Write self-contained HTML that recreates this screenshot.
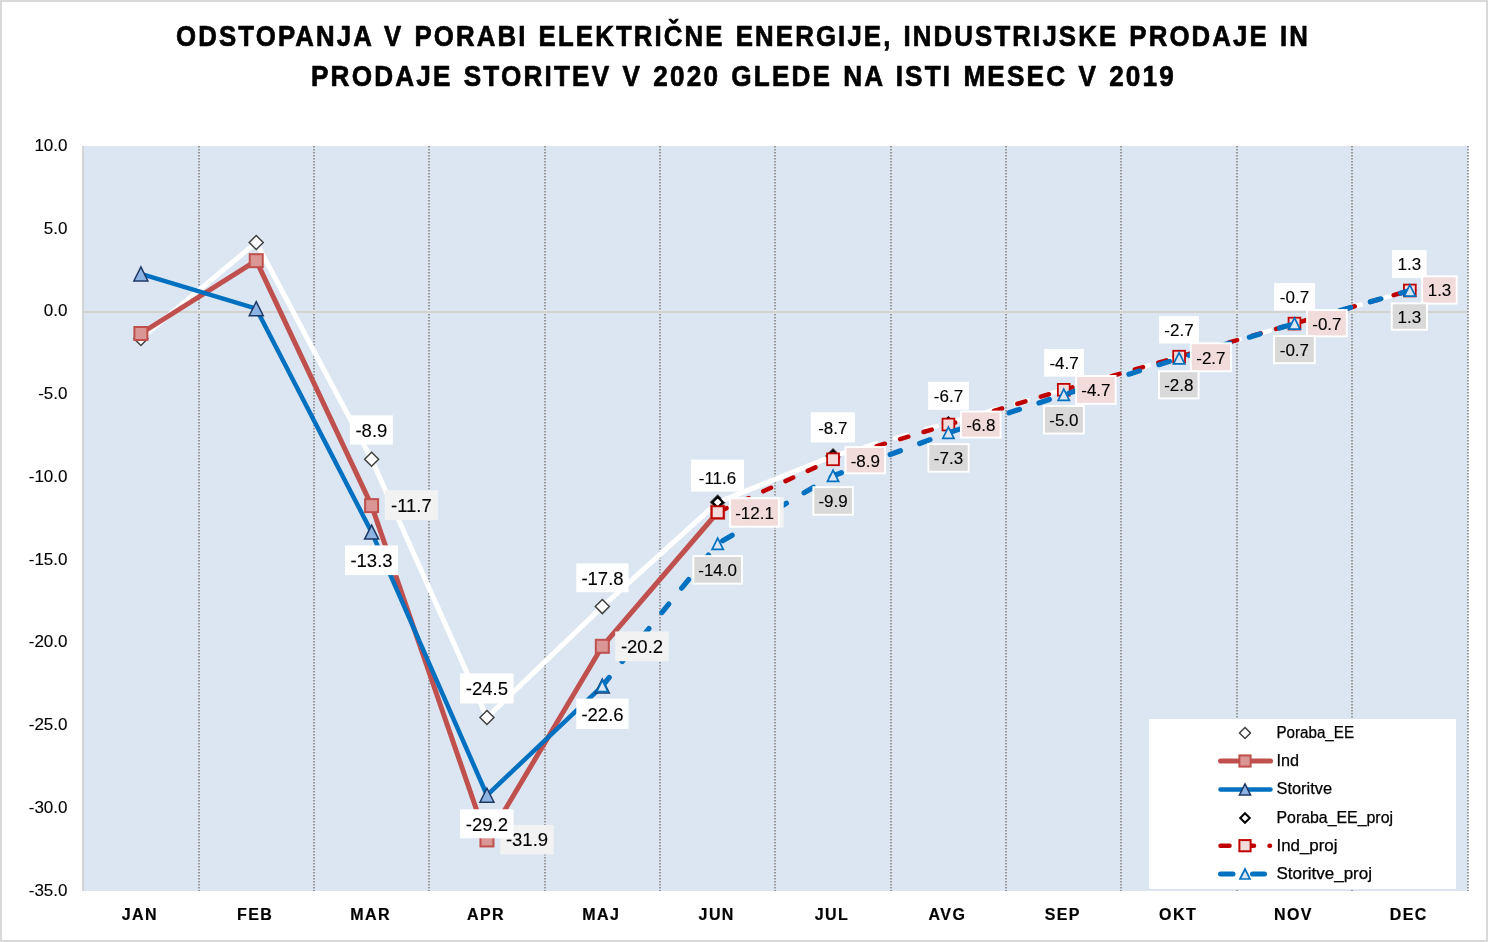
<!DOCTYPE html>
<html><head><meta charset="utf-8"><style>html,body{margin:0;padding:0;background:#fff;width:1488px;height:942px;overflow:hidden}</style></head><body>
<svg width="1488" height="942" viewBox="0 0 1488 942" style="display:block;will-change:transform">
<rect x="0" y="0" width="1488" height="942" fill="#d9d9d9"/>
<rect x="2" y="2" width="1484" height="938" fill="#ffffff"/>
<rect x="82" y="146" width="1386" height="745" fill="#dce6f2"/>
<line x1="199" y1="146" x2="199" y2="891" stroke="#999999" stroke-width="2" stroke-dasharray="1.6 1.4"/>
<line x1="314" y1="146" x2="314" y2="891" stroke="#999999" stroke-width="2" stroke-dasharray="1.6 1.4"/>
<line x1="429" y1="146" x2="429" y2="891" stroke="#999999" stroke-width="2" stroke-dasharray="1.6 1.4"/>
<line x1="545" y1="146" x2="545" y2="891" stroke="#999999" stroke-width="2" stroke-dasharray="1.6 1.4"/>
<line x1="660" y1="146" x2="660" y2="891" stroke="#999999" stroke-width="2" stroke-dasharray="1.6 1.4"/>
<line x1="775" y1="146" x2="775" y2="891" stroke="#999999" stroke-width="2" stroke-dasharray="1.6 1.4"/>
<line x1="891" y1="146" x2="891" y2="891" stroke="#999999" stroke-width="2" stroke-dasharray="1.6 1.4"/>
<line x1="1006" y1="146" x2="1006" y2="891" stroke="#999999" stroke-width="2" stroke-dasharray="1.6 1.4"/>
<line x1="1121" y1="146" x2="1121" y2="891" stroke="#999999" stroke-width="2" stroke-dasharray="1.6 1.4"/>
<line x1="1237" y1="146" x2="1237" y2="891" stroke="#999999" stroke-width="2" stroke-dasharray="1.6 1.4"/>
<line x1="1352" y1="146" x2="1352" y2="891" stroke="#999999" stroke-width="2" stroke-dasharray="1.6 1.4"/>
<line x1="1468" y1="146" x2="1468" y2="891" stroke="#999999" stroke-width="2" stroke-dasharray="1.6 1.4"/>
<rect x="82" y="146" width="2" height="745" fill="#d4d4d4"/>
<rect x="84" y="311" width="1383" height="2" fill="#d6d2cf"/>
<text x="67.5" y="150.8" text-anchor="end" font-family='"Liberation Sans", sans-serif' font-size="17" stroke="#000" stroke-width="0.12" fill="#000">10.0</text>
<text x="67.5" y="233.6" text-anchor="end" font-family='"Liberation Sans", sans-serif' font-size="17" stroke="#000" stroke-width="0.12" fill="#000">5.0</text>
<text x="67.5" y="316.3" text-anchor="end" font-family='"Liberation Sans", sans-serif' font-size="17" stroke="#000" stroke-width="0.12" fill="#000">0.0</text>
<text x="67.5" y="399.1" text-anchor="end" font-family='"Liberation Sans", sans-serif' font-size="17" stroke="#000" stroke-width="0.12" fill="#000">-5.0</text>
<text x="67.5" y="481.8" text-anchor="end" font-family='"Liberation Sans", sans-serif' font-size="17" stroke="#000" stroke-width="0.12" fill="#000">-10.0</text>
<text x="67.5" y="564.5" text-anchor="end" font-family='"Liberation Sans", sans-serif' font-size="17" stroke="#000" stroke-width="0.12" fill="#000">-15.0</text>
<text x="67.5" y="647.3" text-anchor="end" font-family='"Liberation Sans", sans-serif' font-size="17" stroke="#000" stroke-width="0.12" fill="#000">-20.0</text>
<text x="67.5" y="730.0" text-anchor="end" font-family='"Liberation Sans", sans-serif' font-size="17" stroke="#000" stroke-width="0.12" fill="#000">-25.0</text>
<text x="67.5" y="812.8" text-anchor="end" font-family='"Liberation Sans", sans-serif' font-size="17" stroke="#000" stroke-width="0.12" fill="#000">-30.0</text>
<text x="67.5" y="895.5" text-anchor="end" font-family='"Liberation Sans", sans-serif' font-size="17" stroke="#000" stroke-width="0.12" fill="#000">-35.0</text>
<text x="139.9" y="920" text-anchor="middle" font-family='"Liberation Sans", sans-serif' font-weight="bold" font-size="16" letter-spacing="1.4" stroke="#000" stroke-width="0.2" fill="#000">JAN</text>
<text x="255.2" y="920" text-anchor="middle" font-family='"Liberation Sans", sans-serif' font-weight="bold" font-size="16" letter-spacing="1.4" stroke="#000" stroke-width="0.2" fill="#000">FEB</text>
<text x="370.6" y="920" text-anchor="middle" font-family='"Liberation Sans", sans-serif' font-weight="bold" font-size="16" letter-spacing="1.4" stroke="#000" stroke-width="0.2" fill="#000">MAR</text>
<text x="486.0" y="920" text-anchor="middle" font-family='"Liberation Sans", sans-serif' font-weight="bold" font-size="16" letter-spacing="1.4" stroke="#000" stroke-width="0.2" fill="#000">APR</text>
<text x="601.3" y="920" text-anchor="middle" font-family='"Liberation Sans", sans-serif' font-weight="bold" font-size="16" letter-spacing="1.4" stroke="#000" stroke-width="0.2" fill="#000">MAJ</text>
<text x="716.7" y="920" text-anchor="middle" font-family='"Liberation Sans", sans-serif' font-weight="bold" font-size="16" letter-spacing="1.4" stroke="#000" stroke-width="0.2" fill="#000">JUN</text>
<text x="832.0" y="920" text-anchor="middle" font-family='"Liberation Sans", sans-serif' font-weight="bold" font-size="16" letter-spacing="1.4" stroke="#000" stroke-width="0.2" fill="#000">JUL</text>
<text x="947.4" y="920" text-anchor="middle" font-family='"Liberation Sans", sans-serif' font-weight="bold" font-size="16" letter-spacing="1.4" stroke="#000" stroke-width="0.2" fill="#000">AVG</text>
<text x="1062.8" y="920" text-anchor="middle" font-family='"Liberation Sans", sans-serif' font-weight="bold" font-size="16" letter-spacing="1.4" stroke="#000" stroke-width="0.2" fill="#000">SEP</text>
<text x="1178.1" y="920" text-anchor="middle" font-family='"Liberation Sans", sans-serif' font-weight="bold" font-size="16" letter-spacing="1.4" stroke="#000" stroke-width="0.2" fill="#000">OKT</text>
<text x="1293.5" y="920" text-anchor="middle" font-family='"Liberation Sans", sans-serif' font-weight="bold" font-size="16" letter-spacing="1.4" stroke="#000" stroke-width="0.2" fill="#000">NOV</text>
<text x="1408.8" y="920" text-anchor="middle" font-family='"Liberation Sans", sans-serif' font-weight="bold" font-size="16" letter-spacing="1.4" stroke="#000" stroke-width="0.2" fill="#000">DEC</text>
<text x="176" y="46" font-family='"Liberation Sans", sans-serif' font-weight="bold" font-size="30" letter-spacing="2.5" word-spacing="2" stroke="#000" stroke-width="0.7" textLength="1134" lengthAdjust="spacingAndGlyphs" fill="#000">ODSTOPANJA V PORABI ELEKTRIČNE ENERGIJE, INDUSTRIJSKE PRODAJE IN</text>
<text x="311" y="86" font-family='"Liberation Sans", sans-serif' font-weight="bold" font-size="30" letter-spacing="2.5" word-spacing="2" stroke="#000" stroke-width="0.7" textLength="865" lengthAdjust="spacingAndGlyphs" fill="#000">PRODAJE STORITEV V 2020 GLEDE NA ISTI MESEC V 2019</text>
<polyline points="140.88,338.48 256.24,242.49 371.60,459.30 486.96,717.48 602.32,606.59 717.68,502.33 833.04,455.99" fill="none" stroke="#ffffff" stroke-width="5" stroke-linejoin="round" stroke-linecap="round"/>
<path d="M140.88,331.48 L147.88,338.48 L140.88,345.48 L133.88,338.48 Z" fill="#fff" stroke="#404040" stroke-width="1.5"/>
<path d="M256.24,235.49 L263.24,242.49 L256.24,249.49 L249.24,242.49 Z" fill="#fff" stroke="#404040" stroke-width="1.5"/>
<path d="M371.60,452.30 L378.60,459.30 L371.60,466.30 L364.60,459.30 Z" fill="#fff" stroke="#404040" stroke-width="1.5"/>
<path d="M486.96,710.48 L493.96,717.48 L486.96,724.48 L479.96,717.48 Z" fill="#fff" stroke="#404040" stroke-width="1.5"/>
<path d="M602.32,599.59 L609.32,606.59 L602.32,613.59 L595.32,606.59 Z" fill="#fff" stroke="#404040" stroke-width="1.5"/>
<path d="M717.68,495.33 L724.68,502.33 L717.68,509.33 L710.68,502.33 Z" fill="#fff" stroke="#404040" stroke-width="1.5"/>
<path d="M833.04,448.99 L840.04,455.99 L833.04,462.99 L826.04,455.99 Z" fill="#fff" stroke="#404040" stroke-width="1.5"/>
<polyline points="140.88,333.51 256.24,260.69 371.60,505.63 486.96,839.95 602.32,646.31 717.68,512.25" fill="none" stroke="#c0504d" stroke-width="5" stroke-linejoin="round" stroke-linecap="round"/>
<rect x="134.38" y="327.01" width="13.00" height="13.00" fill="#d99694" stroke="#c0504d" stroke-width="2"/>
<rect x="249.74" y="254.19" width="13.00" height="13.00" fill="#d99694" stroke="#c0504d" stroke-width="2"/>
<rect x="365.10" y="499.13" width="13.00" height="13.00" fill="#d99694" stroke="#c0504d" stroke-width="2"/>
<rect x="480.46" y="833.45" width="13.00" height="13.00" fill="#d99694" stroke="#c0504d" stroke-width="2"/>
<rect x="595.82" y="639.81" width="13.00" height="13.00" fill="#d99694" stroke="#c0504d" stroke-width="2"/>
<rect x="711.18" y="505.75" width="13.00" height="13.00" fill="#d99694" stroke="#c0504d" stroke-width="2"/>
<polyline points="140.88,273.94 256.24,308.69 371.60,532.12 486.96,795.26 602.32,686.03" fill="none" stroke="#0070c0" stroke-width="4.5" stroke-linejoin="round" stroke-linecap="round"/>
<path d="M140.88,266.94 L147.88,280.94 L133.88,280.94 Z" fill="#8db3e2" stroke="#1f3864" stroke-width="1.5" stroke-linejoin="miter"/>
<path d="M256.24,301.69 L263.24,315.69 L249.24,315.69 Z" fill="#8db3e2" stroke="#1f3864" stroke-width="1.5" stroke-linejoin="miter"/>
<path d="M371.60,525.12 L378.60,539.12 L364.60,539.12 Z" fill="#8db3e2" stroke="#1f3864" stroke-width="1.5" stroke-linejoin="miter"/>
<path d="M486.96,788.26 L493.96,802.26 L479.96,802.26 Z" fill="#8db3e2" stroke="#1f3864" stroke-width="1.5" stroke-linejoin="miter"/>
<path d="M602.32,679.03 L609.32,693.03 L595.32,693.03 Z" fill="#8db3e2" stroke="#1f3864" stroke-width="1.5" stroke-linejoin="miter"/>
<polyline points="717.68,502.33 833.04,455.99 948.40,422.88 1063.76,389.79 1179.12,356.69 1294.48,323.58 1409.84,290.49" fill="none" stroke="#ffffff" stroke-width="4.5" stroke-dasharray="12 19.5" stroke-linecap="round"/>
<path d="M717.68,497.03 L722.98,502.33 L717.68,507.63 L712.38,502.33 Z" fill="#fff" stroke="#000" stroke-width="2.2"/>
<path d="M833.04,450.69 L838.34,455.99 L833.04,461.29 L827.74,455.99 Z" fill="#fff" stroke="#000" stroke-width="2.2"/>
<path d="M948.40,417.58 L953.70,422.88 L948.40,428.19 L943.10,422.88 Z" fill="#fff" stroke="#000" stroke-width="2.2"/>
<path d="M1063.76,384.49 L1069.06,389.79 L1063.76,395.09 L1058.46,389.79 Z" fill="#fff" stroke="#000" stroke-width="2.2"/>
<path d="M1179.12,351.38 L1184.42,356.69 L1179.12,361.99 L1173.82,356.69 Z" fill="#fff" stroke="#000" stroke-width="2.2"/>
<path d="M1294.48,318.28 L1299.78,323.58 L1294.48,328.88 L1289.18,323.58 Z" fill="#fff" stroke="#000" stroke-width="2.2"/>
<path d="M1409.84,285.19 L1415.14,290.49 L1409.84,295.79 L1404.54,290.49 Z" fill="#fff" stroke="#000" stroke-width="2.2"/>
<polyline points="717.68,512.25 833.04,459.30 948.40,424.54 1063.76,389.79 1179.12,356.69 1294.48,323.58 1409.84,290.49" fill="none" stroke="#c00000" stroke-width="4.5" stroke-dasharray="8.5 15.98" stroke-dashoffset="-1.19" stroke-linecap="round"/>
<rect x="711.78" y="506.36" width="11.80" height="11.80" fill="#f2dcdb" stroke="#c00000" stroke-width="1.8"/>
<rect x="827.14" y="453.40" width="11.80" height="11.80" fill="#f2dcdb" stroke="#c00000" stroke-width="1.8"/>
<rect x="942.50" y="418.64" width="11.80" height="11.80" fill="#f2dcdb" stroke="#c00000" stroke-width="1.8"/>
<rect x="1057.86" y="383.89" width="11.80" height="11.80" fill="#f2dcdb" stroke="#c00000" stroke-width="1.8"/>
<rect x="1173.22" y="350.79" width="11.80" height="11.80" fill="#f2dcdb" stroke="#c00000" stroke-width="1.8"/>
<rect x="1288.58" y="317.69" width="11.80" height="11.80" fill="#f2dcdb" stroke="#c00000" stroke-width="1.8"/>
<rect x="1403.94" y="284.59" width="11.80" height="11.80" fill="#f2dcdb" stroke="#c00000" stroke-width="1.8"/>
<polyline points="602.32,686.03 717.68,543.70 833.04,475.85 948.40,432.81 1063.76,394.75 1179.12,358.34 1294.48,323.58 1409.84,290.49" fill="none" stroke="#0070c0" stroke-width="5.2" stroke-dasharray="11 20.5" stroke-linecap="round"/>
<path d="M602.32,680.43 L607.92,691.63 L596.72,691.63 Z" fill="#dce6f2" stroke="#0070c0" stroke-width="1.7" stroke-linejoin="miter"/>
<path d="M717.68,538.10 L723.28,549.30 L712.08,549.30 Z" fill="#dce6f2" stroke="#0070c0" stroke-width="1.7" stroke-linejoin="miter"/>
<path d="M833.04,470.25 L838.64,481.45 L827.44,481.45 Z" fill="#dce6f2" stroke="#0070c0" stroke-width="1.7" stroke-linejoin="miter"/>
<path d="M948.40,427.21 L954.00,438.42 L942.80,438.42 Z" fill="#dce6f2" stroke="#0070c0" stroke-width="1.7" stroke-linejoin="miter"/>
<path d="M1063.76,389.15 L1069.36,400.35 L1058.16,400.35 Z" fill="#dce6f2" stroke="#0070c0" stroke-width="1.7" stroke-linejoin="miter"/>
<path d="M1179.12,352.74 L1184.72,363.94 L1173.52,363.94 Z" fill="#dce6f2" stroke="#0070c0" stroke-width="1.7" stroke-linejoin="miter"/>
<path d="M1294.48,317.98 L1300.08,329.19 L1288.88,329.19 Z" fill="#dce6f2" stroke="#0070c0" stroke-width="1.7" stroke-linejoin="miter"/>
<path d="M1409.84,284.88 L1415.44,296.09 L1404.24,296.09 Z" fill="#dce6f2" stroke="#0070c0" stroke-width="1.7" stroke-linejoin="miter"/>
<rect x="349.9" y="415.3" width="43.0" height="29.3" fill="#ffffff"/>
<text x="371.4" y="436.7" text-anchor="middle" font-family='"Liberation Sans", sans-serif' font-size="18.5" stroke="#000" stroke-width="0.12" fill="#000">-8.9</text>
<rect x="460.1" y="673.4" width="53.5" height="30.1" fill="#ffffff"/>
<text x="486.9" y="695.2" text-anchor="middle" font-family='"Liberation Sans", sans-serif' font-size="18.5" stroke="#000" stroke-width="0.12" fill="#000">-24.5</text>
<rect x="576.3" y="563.4" width="52.3" height="28.8" fill="#ffffff"/>
<text x="602.5" y="584.5" text-anchor="middle" font-family='"Liberation Sans", sans-serif' font-size="18.5" stroke="#000" stroke-width="0.12" fill="#000">-17.8</text>
<rect x="691.0" y="459.6" width="53.0" height="32.0" fill="#ffffff"/>
<text x="717.5" y="483.9" text-anchor="middle" font-family='"Liberation Sans", sans-serif' font-size="17" stroke="#000" stroke-width="0.12" fill="#000">-11.6</text>
<rect x="384.9" y="490.2" width="53.0" height="29.7" fill="#f2f2f2"/>
<text x="411.4" y="511.7" text-anchor="middle" font-family='"Liberation Sans", sans-serif' font-size="18.5" stroke="#000" stroke-width="0.12" fill="#000">-11.7</text>
<rect x="500.2" y="824.9" width="53.5" height="29.6" fill="#f2f2f2"/>
<text x="527.0" y="846.4" text-anchor="middle" font-family='"Liberation Sans", sans-serif' font-size="18.5" stroke="#000" stroke-width="0.12" fill="#000">-31.9</text>
<rect x="615.2" y="631.5" width="53.5" height="29.7" fill="#f2f2f2"/>
<text x="642.0" y="653.1" text-anchor="middle" font-family='"Liberation Sans", sans-serif' font-size="18.5" stroke="#000" stroke-width="0.12" fill="#000">-20.2</text>
<rect x="729.0" y="497.3" width="54.7" height="30.3" fill="#f2f2f2"/>
<text x="756.4" y="519.2" text-anchor="middle" font-family='"Liberation Sans", sans-serif' font-size="18.5" stroke="#000" stroke-width="0.12" fill="#000">-12.1</text>
<rect x="345.0" y="545.4" width="53.0" height="29.7" fill="#ffffff"/>
<text x="371.5" y="567.0" text-anchor="middle" font-family='"Liberation Sans", sans-serif' font-size="18.5" stroke="#000" stroke-width="0.12" fill="#000">-13.3</text>
<rect x="460.1" y="809.3" width="53.5" height="29.0" fill="#ffffff"/>
<text x="486.9" y="830.5" text-anchor="middle" font-family='"Liberation Sans", sans-serif' font-size="18.5" stroke="#000" stroke-width="0.12" fill="#000">-29.2</text>
<rect x="576.3" y="698.6" width="52.3" height="30.4" fill="#ffffff"/>
<text x="602.5" y="720.5" text-anchor="middle" font-family='"Liberation Sans", sans-serif' font-size="18.5" stroke="#000" stroke-width="0.12" fill="#000">-22.6</text>
<rect x="810.8" y="412.2" width="44.1" height="30.3" fill="#ffffff"/>
<text x="832.8" y="433.7" text-anchor="middle" font-family='"Liberation Sans", sans-serif' font-size="17" stroke="#000" stroke-width="0.12" fill="#000">-8.7</text>
<rect x="928.2" y="381.9" width="40.6" height="27.9" fill="#ffffff"/>
<text x="948.5" y="402.2" text-anchor="middle" font-family='"Liberation Sans", sans-serif' font-size="17" stroke="#000" stroke-width="0.12" fill="#000">-6.7</text>
<rect x="1044.2" y="349.0" width="39.7" height="27.6" fill="#ffffff"/>
<text x="1064.1" y="369.1" text-anchor="middle" font-family='"Liberation Sans", sans-serif' font-size="17" stroke="#000" stroke-width="0.12" fill="#000">-4.7</text>
<rect x="1159.1" y="315.9" width="39.8" height="27.6" fill="#ffffff"/>
<text x="1179.0" y="336.0" text-anchor="middle" font-family='"Liberation Sans", sans-serif' font-size="17" stroke="#000" stroke-width="0.12" fill="#000">-2.7</text>
<rect x="1274.1" y="283.1" width="40.9" height="27.5" fill="#ffffff"/>
<text x="1294.5" y="303.2" text-anchor="middle" font-family='"Liberation Sans", sans-serif' font-size="17" stroke="#000" stroke-width="0.12" fill="#000">-0.7</text>
<rect x="1392.0" y="250.1" width="34.7" height="27.8" fill="#ffffff"/>
<text x="1409.3" y="270.3" text-anchor="middle" font-family='"Liberation Sans", sans-serif' font-size="17" stroke="#000" stroke-width="0.12" fill="#000">1.3</text>
<rect x="729.2" y="497.3" width="50.6" height="30.3" fill="#ffffff"/>
<rect x="731.1" y="499.2" width="46.8" height="26.5" fill="#f2dcdb"/>
<text x="754.5" y="518.8" text-anchor="middle" font-family='"Liberation Sans", sans-serif' font-size="17" stroke="#000" stroke-width="0.12" fill="#000">-12.1</text>
<rect x="844.6" y="446.1" width="41.4" height="28.2" fill="#ffffff"/>
<rect x="846.5" y="448.0" width="37.6" height="24.4" fill="#f2dcdb"/>
<text x="865.3" y="466.5" text-anchor="middle" font-family='"Liberation Sans", sans-serif' font-size="17" stroke="#000" stroke-width="0.12" fill="#000">-8.9</text>
<rect x="960.0" y="410.6" width="41.5" height="27.9" fill="#ffffff"/>
<rect x="961.9" y="412.5" width="37.7" height="24.1" fill="#f2dcdb"/>
<text x="980.8" y="430.9" text-anchor="middle" font-family='"Liberation Sans", sans-serif' font-size="17" stroke="#000" stroke-width="0.12" fill="#000">-6.8</text>
<rect x="1075.2" y="375.0" width="41.4" height="29.8" fill="#ffffff"/>
<rect x="1077.1" y="376.9" width="37.6" height="26.0" fill="#f2dcdb"/>
<text x="1095.9" y="396.2" text-anchor="middle" font-family='"Liberation Sans", sans-serif' font-size="17" stroke="#000" stroke-width="0.12" fill="#000">-4.7</text>
<rect x="1189.9" y="342.3" width="42.0" height="29.9" fill="#ffffff"/>
<rect x="1191.8" y="344.2" width="38.2" height="26.1" fill="#f2dcdb"/>
<text x="1210.9" y="363.6" text-anchor="middle" font-family='"Liberation Sans", sans-serif' font-size="17" stroke="#000" stroke-width="0.12" fill="#000">-2.7</text>
<rect x="1306.1" y="309.1" width="41.6" height="28.2" fill="#ffffff"/>
<rect x="1308.0" y="311.0" width="37.8" height="24.4" fill="#f2dcdb"/>
<text x="1326.9" y="329.5" text-anchor="middle" font-family='"Liberation Sans", sans-serif' font-size="17" stroke="#000" stroke-width="0.12" fill="#000">-0.7</text>
<rect x="1421.2" y="275.4" width="36.5" height="29.2" fill="#ffffff"/>
<rect x="1423.1" y="277.3" width="32.7" height="25.4" fill="#f2dcdb"/>
<text x="1439.5" y="296.3" text-anchor="middle" font-family='"Liberation Sans", sans-serif' font-size="17" stroke="#000" stroke-width="0.12" fill="#000">1.3</text>
<rect x="692.4" y="555.1" width="50.5" height="29.5" fill="#ffffff"/>
<rect x="694.3" y="557.0" width="46.7" height="25.7" fill="#d9d9d9"/>
<text x="717.6" y="576.1" text-anchor="middle" font-family='"Liberation Sans", sans-serif' font-size="17" stroke="#000" stroke-width="0.12" fill="#000">-14.0</text>
<rect x="812.4" y="486.2" width="41.4" height="29.5" fill="#ffffff"/>
<rect x="814.3" y="488.1" width="37.6" height="25.7" fill="#d9d9d9"/>
<text x="833.1" y="507.3" text-anchor="middle" font-family='"Liberation Sans", sans-serif' font-size="17" stroke="#000" stroke-width="0.12" fill="#000">-9.9</text>
<rect x="927.4" y="443.2" width="42.2" height="29.5" fill="#ffffff"/>
<rect x="929.3" y="445.1" width="38.4" height="25.7" fill="#d9d9d9"/>
<text x="948.5" y="464.2" text-anchor="middle" font-family='"Liberation Sans", sans-serif' font-size="17" stroke="#000" stroke-width="0.12" fill="#000">-7.3</text>
<rect x="1043.1" y="405.0" width="41.7" height="29.5" fill="#ffffff"/>
<rect x="1045.0" y="406.9" width="37.9" height="25.7" fill="#d9d9d9"/>
<text x="1063.9" y="426.1" text-anchor="middle" font-family='"Liberation Sans", sans-serif' font-size="17" stroke="#000" stroke-width="0.12" fill="#000">-5.0</text>
<rect x="1158.0" y="370.3" width="41.5" height="29.0" fill="#ffffff"/>
<rect x="1159.9" y="372.2" width="37.7" height="25.2" fill="#d9d9d9"/>
<text x="1178.8" y="391.1" text-anchor="middle" font-family='"Liberation Sans", sans-serif' font-size="17" stroke="#000" stroke-width="0.12" fill="#000">-2.8</text>
<rect x="1273.1" y="335.1" width="42.6" height="29.0" fill="#ffffff"/>
<rect x="1275.0" y="337.0" width="38.8" height="25.2" fill="#d9d9d9"/>
<text x="1294.4" y="355.9" text-anchor="middle" font-family='"Liberation Sans", sans-serif' font-size="17" stroke="#000" stroke-width="0.12" fill="#000">-0.7</text>
<rect x="1390.8" y="302.4" width="37.1" height="28.3" fill="#ffffff"/>
<rect x="1392.7" y="304.3" width="33.3" height="24.5" fill="#d9d9d9"/>
<text x="1409.3" y="322.8" text-anchor="middle" font-family='"Liberation Sans", sans-serif' font-size="17" stroke="#000" stroke-width="0.12" fill="#000">1.3</text>
<rect x="1149" y="719" width="307" height="170" fill="#ffffff"/>
<text x="1276.5" y="738.1" font-family='"Liberation Sans", sans-serif' font-size="16" stroke="#000" stroke-width="0.25" textLength="77.5" lengthAdjust="spacingAndGlyphs" fill="#000">Poraba_EE</text>
<text x="1276.5" y="765.6" font-family='"Liberation Sans", sans-serif' font-size="16" stroke="#000" stroke-width="0.25" textLength="22.5" lengthAdjust="spacingAndGlyphs" fill="#000">Ind</text>
<text x="1276.5" y="794.1" font-family='"Liberation Sans", sans-serif' font-size="16" stroke="#000" stroke-width="0.25" textLength="55.5" lengthAdjust="spacingAndGlyphs" fill="#000">Storitve</text>
<text x="1276.5" y="822.6" font-family='"Liberation Sans", sans-serif' font-size="16" stroke="#000" stroke-width="0.25" textLength="116.5" lengthAdjust="spacingAndGlyphs" fill="#000">Poraba_EE_proj</text>
<text x="1276.5" y="850.6" font-family='"Liberation Sans", sans-serif' font-size="16" stroke="#000" stroke-width="0.25" textLength="61" lengthAdjust="spacingAndGlyphs" fill="#000">Ind_proj</text>
<text x="1276.5" y="879.1" font-family='"Liberation Sans", sans-serif' font-size="16" stroke="#000" stroke-width="0.25" textLength="95.5" lengthAdjust="spacingAndGlyphs" fill="#000">Storitve_proj</text>
<path d="M1245.00,727.50 L1250.50,733.00 L1245.00,738.50 L1239.50,733.00 Z" fill="#fff" stroke="#404040" stroke-width="1.5"/>
<line x1="1220.5" y1="761" x2="1270.5" y2="761" stroke="#c0504d" stroke-width="5" stroke-linecap="round"/>
<rect x="1239.40" y="755.40" width="11.20" height="11.20" fill="#d99694" stroke="#c0504d" stroke-width="2"/>
<line x1="1220.5" y1="789.5" x2="1270.5" y2="789.5" stroke="#0070c0" stroke-width="4.5" stroke-linecap="round"/>
<path d="M1245.00,783.90 L1250.60,795.10 L1239.40,795.10 Z" fill="#8db3e2" stroke="#1f3864" stroke-width="1.5" stroke-linejoin="miter"/>
<path d="M1245.00,813.20 L1249.80,818.00 L1245.00,822.80 L1240.20,818.00 Z" fill="#fff" stroke="#000" stroke-width="2"/>
<path d="M1220.5,845.7 L1229.5,845.7 M1246,845.7 L1254,845.7 M1269.5,845.7 L1270,845.7" stroke="#c00000" stroke-width="4.5" stroke-linecap="round"/>
<rect x="1239.40" y="840.10" width="11.20" height="11.20" fill="#f2dcdb" stroke="#c00000" stroke-width="2"/>
<path d="M1220.5,874 L1233,874 M1252.5,874 L1264.5,874" stroke="#0070c0" stroke-width="5" stroke-linecap="round"/>
<path d="M1245.00,869.00 L1250.00,879.00 L1240.00,879.00 Z" fill="#dce6f2" stroke="#0070c0" stroke-width="1.7" stroke-linejoin="miter"/>
</svg>
</body></html>
